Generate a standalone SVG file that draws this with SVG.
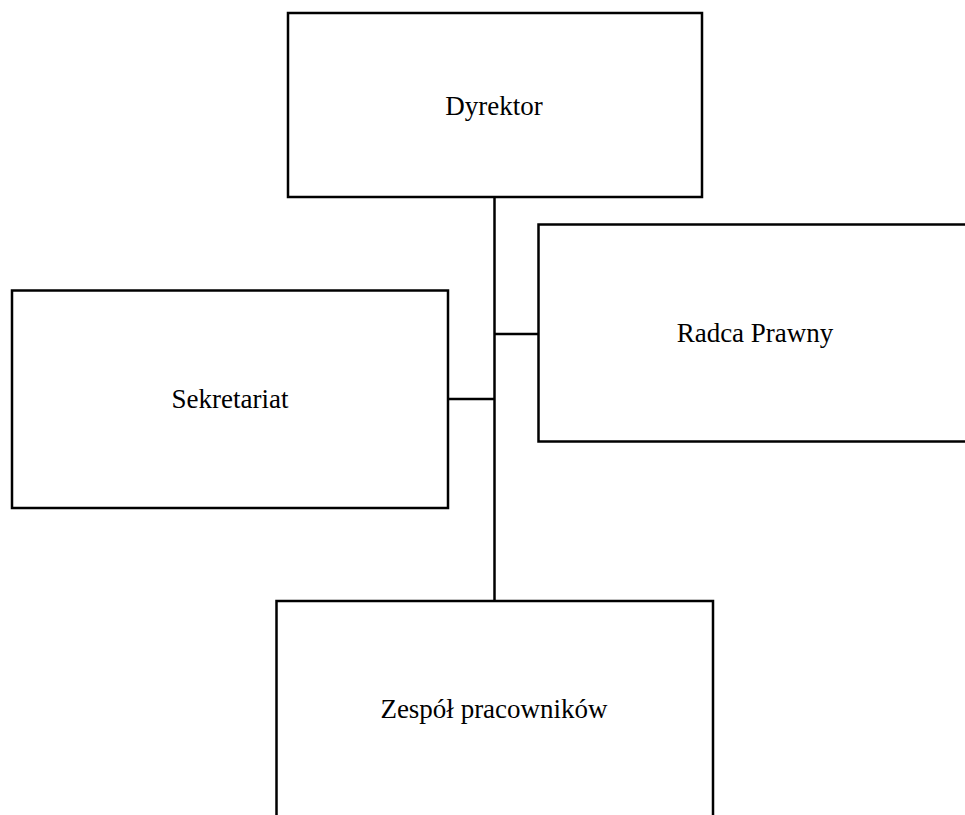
<svg xmlns="http://www.w3.org/2000/svg" width="965" height="815" viewBox="0 0 965 815">
<style>
.box{fill:#fff;stroke:#000;stroke-width:2.5}
.lbl{font-family:"Liberation Serif","Times New Roman",serif;font-size:27px;fill:#000;text-anchor:middle}
.con{stroke:#000;stroke-width:2.5;fill:none}
</style>
<rect width="965" height="815" fill="#fff"/>
<g id="connectors">
<line class="con" x1="494.5" y1="197" x2="494.5" y2="601"/>
<line class="con" x1="494.5" y1="334" x2="538" y2="334"/>
<line class="con" x1="448" y1="399" x2="494.5" y2="399"/>
</g>
<g id="dyrektor">
<rect class="box" x="288" y="13" width="414" height="184"/>
<text class="lbl" x="494" y="115">Dyrektor</text>
</g>
<g id="radca">
<rect class="box" x="538.5" y="224.5" width="436" height="217"/>
<text class="lbl" x="755" y="342">Radca Prawny</text>
</g>
<g id="sekretariat">
<rect class="box" x="12" y="290.5" width="436" height="217.5"/>
<text class="lbl" x="230" y="408">Sekretariat</text>
</g>
<g id="zespol">
<rect class="box" x="276.5" y="601" width="436.5" height="218"/>
<text class="lbl" x="494" y="718">Zespół pracowników</text>
</g>
</svg>
